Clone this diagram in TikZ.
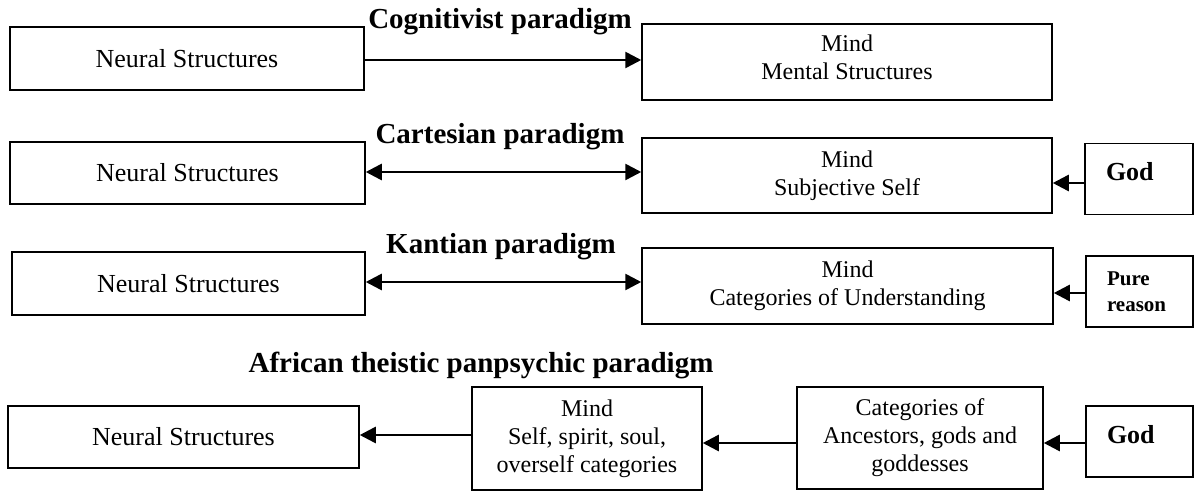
\documentclass[tikz,border=0pt]{standalone}
\usepackage{fontspec}
\setmainfont{Liberation Serif}
\usetikzlibrary{arrows.meta}
\begin{document}
\begin{tikzpicture}[x=0.5pt,y=-0.5pt,
  box/.style={draw, line width=0.75pt, rectangle, inner sep=0pt, align=center,
    font=\fontsize{12}{14}\selectfont},
  nbox/.style={box, font=\fontsize{13}{15}\selectfont},
  head/.style={inner sep=0pt, anchor=base, font=\fontsize{14.5}{17}\selectfont\bfseries},
  godbox/.style={draw, line width=0.75pt, rectangle, inner ysep=0pt, inner xsep=10.5pt,
    align=left, minimum height=35.5pt},
  arr/.style={line width=1.3pt, -{Triangle[length=8pt,width=8pt]}},
  darr/.style={line width=1.3pt, {Triangle[length=8pt,width=8pt]}-{Triangle[length=8pt,width=8pt]}}]
\useasboundingbox (0,0) rectangle (1197,491);

% Row 1
\node[nbox, minimum width=177pt, minimum height=31.5pt] (n1) at (187,58.5) {Neural Structures};
\node[box, minimum width=205pt, minimum height=38pt, text depth=5pt] (m1) at (847,62) {Mind\\Mental Structures};
\node[head] (h1) at (500,29) {Cognitivist paradigm};
\coordinate (a1) at ([yshift=-0.75pt]n1.east);
\draw[arr] (a1) -- (a1 -| m1.west);

% Row 2
\node[nbox, minimum width=177.5pt, minimum height=31pt] (n2) at (187.5,173) {Neural Structures};
\node[box, minimum width=205pt, minimum height=37.5pt] (m2) at (847,175.5) {Mind\\Subjective Self};
\node[godbox, text width=33pt, font=\fontsize{13}{15}\selectfont\bfseries, text depth=7.5pt] (g1) at (1139,179) {God};
\node[head] (h2) at (500,144) {Cartesian paradigm};
\coordinate (a2) at ([yshift=0.5pt]n2.east);
\draw[darr] (a2) -- (a2 -| m2.west);
\coordinate (b2) at ([yshift=-2pt]g1.west);
\draw[arr] (b2) -- (b2 -| m2.east);

% Row 3
\node[nbox, minimum width=176.5pt, minimum height=31.5pt] (n3) at (188.5,283.5) {Neural Structures};
\node[box, minimum width=205.5pt, minimum height=38pt] (m3) at (847.5,286) {Mind\\Categories of Understanding};
\node[godbox, text width=32.5pt, minimum width=53.5pt, font=\fontsize{10.5}{13}\selectfont\bfseries] (pr) at (1139.5,291.5) {Pure\\reason};
\node[head] (h3) at (501,254) {Kantian paradigm};
\coordinate (a3) at ([yshift=0.75pt]n3.east);
\draw[darr] (a3) -- (a3 -| m3.west);
\coordinate (b3) at ([yshift=-0.75pt]pr.west);
\draw[arr] (b3) -- (b3 -| m3.east);

% Row 4
\node[head] (h4) at (481,372) {African theistic panpsychic paradigm};
\node[nbox, minimum width=175.5pt, minimum height=31pt] (n4) at (183.5,437) {Neural Structures};
\node[box, minimum width=115pt, minimum height=51.5pt] (m4) at (587,438.5) {Mind\\Self, spirit, soul,\\overself categories};
\node[box, minimum width=123pt, minimum height=51pt] (cat) at (920,438) {Categories of\\Ancestors, gods and\\goddesses};
\node[godbox, text width=32.5pt, minimum width=53.5pt, font=\fontsize{13}{15}\selectfont\bfseries, text depth=7.5pt] (g2) at (1139.5,441.5) {God};
\coordinate (a4) at ([yshift=1.75pt]m4.west);
\draw[arr] (a4) -- (a4 -| n4.east);
\coordinate (b4) at ([yshift=-2.5pt]cat.west);
\draw[arr] (b4) -- (b4 -| m4.east);
\coordinate (c4) at ([yshift=-0.75pt]g2.west);
\draw[arr] (c4) -- (c4 -| cat.east);
\end{tikzpicture}
\end{document}
